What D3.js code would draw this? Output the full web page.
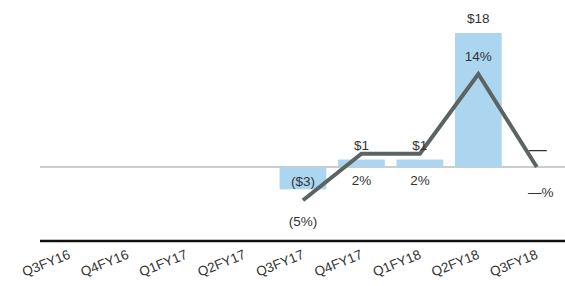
<!DOCTYPE html>
<html>
<head>
<meta charset="utf-8">
<script src="https://d3js.org/d3.v7.min.js"></script>
<style>
  body { margin: 0; background: #fff; }
  text { font-family: "Liberation Sans", Arial, sans-serif; fill: #333; }
</style>
</head>
<body>
<script>
// quarters on the x axis
var quarters = ["Q3FY16", "Q4FY16", "Q1FY17", "Q2FY17", "Q3FY17", "Q4FY17", "Q1FY18", "Q2FY18", "Q3FY18"];
// bar values ($), null = no data
var dollars = [null, null, null, null, -3, 1, 1, 18, 0];
var dollarLabels = ["", "", "", "", "($3)", "$1", "$1", "$18", "\u2014"];
// line values (%)
var pct = [null, null, null, null, -5, 2, 2, 14, 0];
var pctLabels = ["", "", "", "", "(5%)", "2%", "2%", "14%", "\u2014%"];

var w = 565, h = 286;
var zeroY = 167;

var svg = d3.select("body").append("svg").attr("width", w).attr("height", h);

var x = d3.scaleBand().domain(quarters).range([40, 566]).paddingInner(0.2).paddingOuter(0.1);
var yBar = d3.scaleLinear().domain([0, 18]).range([zeroY, 33]);
var yPct = d3.scaleLinear().domain([0, 14]).range([zeroY, 74]);

var data = quarters.map(function(q, i) {
  return { q: q, d: dollars[i], dl: dollarLabels[i], p: pct[i], pl: pctLabels[i] };
});
var cx = function(d) { return x(d.q) + x.bandwidth() / 2; };

// zero line
svg.append("line")
  .attr("x1", 40).attr("x2", w)
  .attr("y1", zeroY).attr("y2", zeroY)
  .attr("stroke", "#9a9a9a").attr("stroke-width", 1);

// bars
svg.selectAll("rect.bar")
  .data(data.filter(function(d) { return d.d !== null && d.d !== 0; }))
  .enter().append("rect")
  .attr("class", "bar")
  .attr("x", function(d) { return x(d.q); })
  .attr("width", x.bandwidth())
  .attr("y", function(d) { return Math.min(yBar(d.d), yBar(0)); })
  .attr("height", function(d) { return Math.abs(yBar(d.d) - yBar(0)); })
  .attr("fill", "#acd5f0");

// line
var line = d3.line()
  .defined(function(d) { return d.p !== null; })
  .x(cx)
  .y(function(d) { return yPct(d.p); });

svg.append("path")
  .datum(data)
  .attr("d", line)
  .attr("fill", "none")
  .attr("stroke", "#5b6462")
  .attr("stroke-width", 4);

// dollar labels
svg.selectAll("text.dl")
  .data(data.filter(function(d) { return d.d !== null; }))
  .enter().append("text")
  .attr("class", "dl")
  .attr("text-anchor", "middle")
  .attr("font-size", function(d) { return d.d === 0 ? 18 : 13.5; })
  .attr("x", function(d) { return cx(d) + (d.d === 0 ? 1 : 0); })
  .attr("y", function(d) {
    if (d.d < 0) return yBar(0) + 19;
    if (d.d === 0) return yBar(0) - 12;
    return yBar(d.d) - 10;
  })
  .text(function(d) { return d.dl; });

// percent labels
svg.selectAll("text.pl")
  .data(data.filter(function(d) { return d.p !== null; }))
  .enter().append("text")
  .attr("class", "pl")
  .attr("text-anchor", "middle")
  .attr("font-size", 13.5)
  .attr("x", function(d) { return cx(d) + (d.p === 0 ? 4 : 0); })
  .attr("y", function(d) {
    if (d.p < 0) return yPct(d.p) + 26;
    if (d.p === 0) return yBar(0) + 30;
    if (d.p > 10) return yBar(d.d) + 28;
    return yBar(0) + 18;
  })
  .text(function(d) { return d.pl; });

// bottom axis line
svg.append("line")
  .attr("x1", 40).attr("x2", w)
  .attr("y1", 241).attr("y2", 241)
  .attr("stroke", "#111").attr("stroke-width", 2.5);

// axis labels
svg.selectAll("text.xl")
  .data(quarters)
  .enter().append("text")
  .attr("class", "xl")
  .attr("text-anchor", "end")
  .attr("font-size", 13.5)
  .attr("transform", function(q) {
    return "translate(" + (x(q) + x.bandwidth() / 2 + 2) + ",258) rotate(-22)";
  })
  .text(function(q) { return q; });
</script>
</body>
</html>
